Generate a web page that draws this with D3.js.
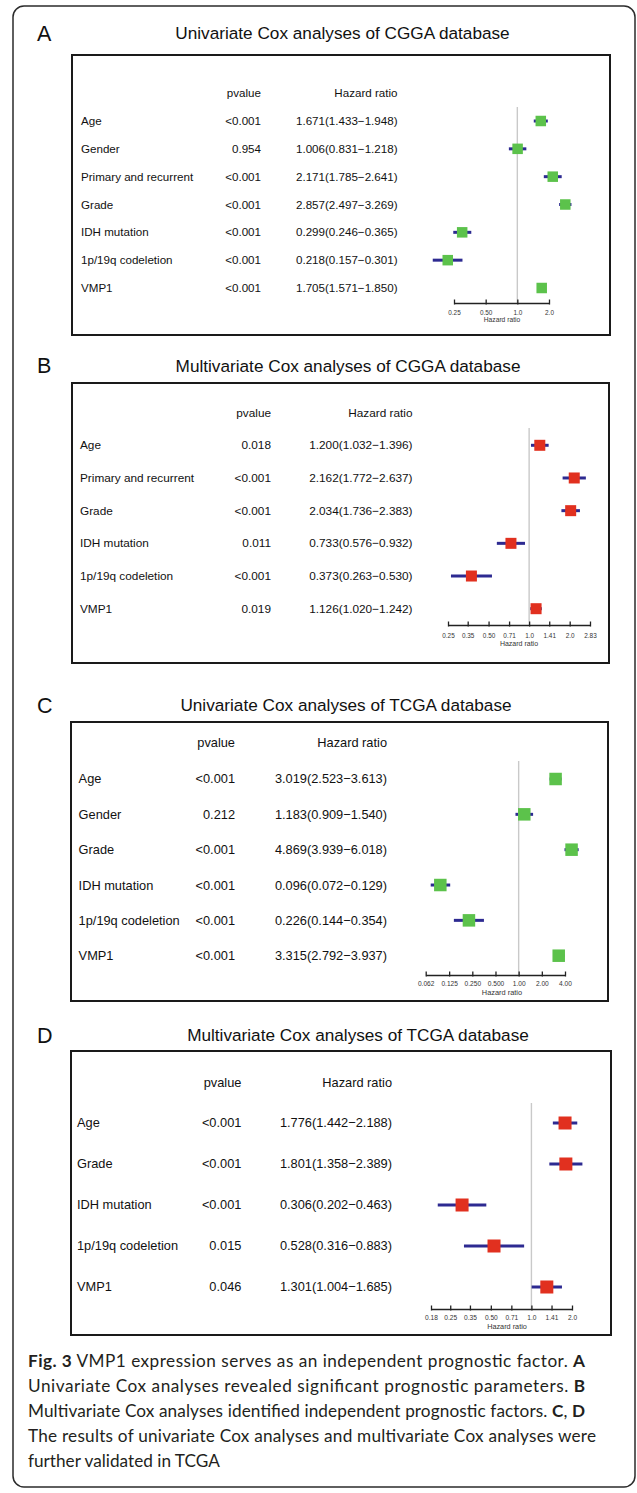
<!DOCTYPE html>
<html>
<head>
<meta charset="utf-8">
<script src="https://cdn.jsdelivr.net/npm/d3@7"></script>
<style>
  html, body { margin: 0; padding: 0; background: #fff; }
  svg { display: block; }
</style>
</head>
<body>
<svg id="chart" width="637" height="1493"></svg>
<script>
// ---------------- DATA ----------------
// Panel A: Univariate Cox analyses of CGGA database
const aLabels  = ["Age", "Gender", "Primary and recurrent", "Grade", "IDH mutation", "1p/19q codeletion", "VMP1"];
const aPvalues = ["<0.001", "0.954", "<0.001", "<0.001", "<0.001", "<0.001", "<0.001"];
const aHR      = [1.671, 1.006, 2.171, 2.857, 0.299, 0.218, 1.705];
const aLower   = [1.433, 0.831, 1.785, 2.497, 0.246, 0.157, 1.571];
const aUpper   = [1.948, 1.218, 2.641, 3.269, 0.365, 0.301, 1.850];
const aTicks   = [0.25, 0.5, 1, 2];
const aTickLabels = ["0.25", "0.50", "1.0", "2.0"];

// Panel B: Multivariate Cox analyses of CGGA database
const bLabels  = ["Age", "Primary and recurrent", "Grade", "IDH mutation", "1p/19q codeletion", "VMP1"];
const bPvalues = ["0.018", "<0.001", "<0.001", "0.011", "<0.001", "0.019"];
const bHR      = [1.200, 2.162, 2.034, 0.733, 0.373, 1.126];
const bLower   = [1.032, 1.772, 1.736, 0.576, 0.263, 1.020];
const bUpper   = [1.396, 2.637, 2.383, 0.932, 0.530, 1.242];
const bTicks   = [0.25, 0.35, 0.5, 0.71, 1, 1.41, 2, 2.83];
const bTickLabels = ["0.25", "0.35", "0.50", "0.71", "1.0", "1.41", "2.0", "2.83"];

// Panel C: Univariate Cox analyses of TCGA database
const cLabels  = ["Age", "Gender", "Grade", "IDH mutation", "1p/19q codeletion", "VMP1"];
const cPvalues = ["<0.001", "0.212", "<0.001", "<0.001", "<0.001", "<0.001"];
const cHR      = [3.019, 1.183, 4.869, 0.096, 0.226, 3.315];
const cLower   = [2.523, 0.909, 3.939, 0.072, 0.144, 2.792];
const cUpper   = [3.613, 1.540, 6.018, 0.129, 0.354, 3.937];
const cTicks   = [0.062, 0.125, 0.25, 0.5, 1, 2, 4];
const cTickLabels = ["0.062", "0.125", "0.250", "0.500", "1.00", "2.00", "4.00"];

// Panel D: Multivariate Cox analyses of TCGA database
const dLabels  = ["Age", "Grade", "IDH mutation", "1p/19q codeletion", "VMP1"];
const dPvalues = ["<0.001", "<0.001", "<0.001", "0.015", "0.046"];
const dHR      = [1.776, 1.801, 0.306, 0.528, 1.301];
const dLower   = [1.442, 1.358, 0.202, 0.316, 1.004];
const dUpper   = [2.188, 2.389, 0.463, 0.883, 1.685];
const dTicks   = [0.18, 0.25, 0.35, 0.5, 0.71, 1, 1.41, 2];
const dTickLabels = ["0.18", "0.25", "0.35", "0.50", "0.71", "1.0", "1.41", "2.0"];

const panelLetters = ["A", "B", "C", "D"];
const panelTitles = [
  "Univariate Cox analyses of CGGA database",
  "Multivariate Cox analyses of CGGA database",
  "Univariate Cox analyses of TCGA database",
  "Multivariate Cox analyses of TCGA database"
];

// ---------------- LAYOUT ----------------
const FONT = "'Liberation Sans', Arial, Helvetica, sans-serif";
const GREEN = "#5cc24b", RED = "#e1301f", NAVY = "#2d2a91";

const panels = [
  { letter: panelLetters[0], title: panelTitles[0], labels: aLabels, p: aPvalues, hr: aHR, lo: aLower, hi: aUpper,
    ticks: aTicks, tickLabels: aTickLabels, color: GREEN,
    box: [72, 55, 610, 335], titleX: 342.5, titleY: 33, letterY: 41,
    fs: 11.6, labelX: 81, pRight: 261, hrRight: 397.5, headY: 93, rowTop: 121, rowBot: 288,
    xr: [454, 549], refTop: 107, axisY: 303, tickPad: 7.6, tickFs: 6.4, hrLabY: 322.3, hrLabX: 502, hrLabFs: 6.7, sq: 10.5 },
  { letter: panelLetters[1], title: panelTitles[1], labels: bLabels, p: bPvalues, hr: bHR, lo: bLower, hi: bUpper,
    ticks: bTicks, tickLabels: bTickLabels, color: RED,
    box: [72, 383, 609, 663], titleX: 348, titleY: 366, letterY: 373,
    fs: 11.8, labelX: 80, pRight: 271, hrRight: 412.5, headY: 413, rowTop: 445.3, rowBot: 608.7,
    xr: [448, 590], refTop: 428, axisY: 625, tickPad: 8, tickFs: 6.4, hrLabY: 645.5, hrLabX: 519, hrLabFs: 7, sq: 11 },
  { letter: panelLetters[2], title: panelTitles[2], labels: cLabels, p: cPvalues, hr: cHR, lo: cLower, hi: cUpper,
    ticks: cTicks, tickLabels: cTickLabels, color: GREEN,
    box: [71, 722, 608, 1001], titleX: 346, titleY: 705, letterY: 713,
    fs: 12.8, labelX: 78.6, pRight: 235, hrRight: 387, headY: 743, rowTop: 779, rowBot: 955.7,
    xr: [425.7, 565], refTop: 761, axisY: 975, tickPad: 6.7, tickFs: 6.6, hrLabY: 994.6, hrLabX: 502, hrLabFs: 7.4, sq: 12.5 },
  { letter: panelLetters[3], title: panelTitles[3], labels: dLabels, p: dPvalues, hr: dHR, lo: dLower, hi: dUpper,
    ticks: dTicks, tickLabels: dTickLabels, color: RED,
    box: [71, 1051, 611, 1335], titleX: 358, titleY: 1035, letterY: 1043,
    fs: 12.8, labelX: 77, pRight: 241.4, hrRight: 392, headY: 1083, rowTop: 1123, rowBot: 1287,
    xr: [431, 572], refTop: 1103, axisY: 1309, tickPad: 6.4, tickFs: 6.6, hrLabY: 1328.6, hrLabX: 507, hrLabFs: 7.3, sq: 13 }
];

const fmt = d3.format(".3f");
const svg = d3.select("#chart");

svg.append("rect").attr("width", 637).attr("height", 1493).attr("fill", "#fff");

// outer rounded frame
svg.append("rect")
  .attr("x", 13).attr("y", 6).attr("width", 622).attr("height", 1481)
  .attr("rx", 11).attr("ry", 11)
  .attr("fill", "none").attr("stroke", "#2b2b2b").attr("stroke-width", 1.5);

panels.forEach(P => {
  const g = svg.append("g").attr("font-family", FONT).attr("fill", "#111");

  // panel letter
  g.append("text").attr("x", 37).attr("y", P.letterY)
    .attr("font-size", 21.5).text(P.letter);

  // title
  g.append("text").attr("x", P.titleX).attr("y", P.titleY)
    .attr("dy", "0.35em").attr("text-anchor", "middle")
    .attr("font-size", 17.2).text(P.title);

  // box
  const [x0, y0, x1, y1] = P.box;
  g.append("rect").attr("x", x0).attr("y", y0).attr("width", x1 - x0).attr("height", y1 - y0)
    .attr("fill", "none").attr("stroke", "#1a1a1a").attr("stroke-width", 2);

  // headers
  g.append("text").attr("x", P.pRight).attr("y", P.headY).attr("dy", "0.35em")
    .attr("text-anchor", "end").attr("font-size", P.fs).text("pvalue");
  g.append("text").attr("x", P.hrRight).attr("y", P.headY).attr("dy", "0.35em")
    .attr("text-anchor", "end").attr("font-size", P.fs).text("Hazard ratio");

  const y = d3.scalePoint().domain(P.labels).range([P.rowTop, P.rowBot]);
  const x = d3.scaleLog().domain([P.ticks[0], P.ticks[P.ticks.length - 1]]).range(P.xr);

  const rows = P.labels.map((lab, i) => ({ lab, p: P.p[i], hr: P.hr[i], lo: P.lo[i], hi: P.hi[i] }));

  // table text
  g.selectAll(".lab").data(rows).join("text")
    .attr("x", P.labelX).attr("y", d => y(d.lab)).attr("dy", "0.35em")
    .attr("font-size", P.fs).text(d => d.lab);
  g.selectAll(".pv").data(rows).join("text")
    .attr("x", P.pRight).attr("y", d => y(d.lab)).attr("dy", "0.35em")
    .attr("text-anchor", "end").attr("font-size", P.fs).text(d => d.p);
  g.selectAll(".hrt").data(rows).join("text")
    .attr("x", P.hrRight).attr("y", d => y(d.lab)).attr("dy", "0.35em")
    .attr("text-anchor", "end").attr("font-size", P.fs)
    .text(d => `${fmt(d.hr)}(${fmt(d.lo)}\u2212${fmt(d.hi)})`);

  // reference line at HR = 1
  g.append("line").attr("x1", x(1)).attr("x2", x(1))
    .attr("y1", P.refTop).attr("y2", P.axisY)
    .attr("stroke", "#c9c9c9").attr("stroke-width", 1.4);

  // confidence intervals
  g.selectAll(".ci").data(rows).join("line")
    .attr("x1", d => x(d.lo)).attr("x2", d => x(d.hi))
    .attr("y1", d => y(d.lab)).attr("y2", d => y(d.lab))
    .attr("stroke", NAVY).attr("stroke-width", 3);

  // point estimates
  g.selectAll(".pt").data(rows).join("rect")
    .attr("x", d => x(d.hr) - P.sq / 2).attr("y", d => y(d.lab) - P.sq / 2)
    .attr("width", P.sq).attr("height", P.sq)
    .attr("fill", P.color);

  // x axis
  const axis = d3.axisBottom(x)
    .tickValues(P.ticks)
    .tickFormat((d, i) => P.tickLabels[i])
    .tickSizeInner(-3).tickSizeOuter(0).tickPadding(P.tickPad);
  const ag = g.append("g").attr("transform", `translate(0,${P.axisY})`).call(axis);
  ag.select(".domain").attr("stroke", "#222").attr("stroke-width", 1.5);
  ag.selectAll(".tick line").attr("stroke", "#222").attr("stroke-width", 1.3).attr("y2", -3.5)
    .attr("y1", 1.5);
  ag.selectAll(".tick text").attr("font-family", FONT).attr("font-size", P.tickFs).attr("fill", "#333");

  g.append("text").attr("x", P.hrLabX).attr("y", P.hrLabY)
    .attr("text-anchor", "middle").attr("font-size", P.hrLabFs).attr("fill", "#333")
    .text("Hazard ratio");
});

// ---------------- CAPTION ----------------
const captionLines = [
  [["Fig. 3", true], [" VMP1 expression serves as an independent prognostic factor. ", false], ["A", true]],
  [["Univariate Cox analyses revealed significant prognostic parameters. ", false], ["B", true]],
  [["Multivariate Cox analyses identified independent prognostic factors. ", false], ["C", true], [", ", false], ["D", true]],
  [["The results of univariate Cox analyses and multivariate Cox analyses were", false]],
  [["further validated in TCGA", false]]
];
const capBase = [1367, 1392, 1417, 1442, 1467];
const capWidth = [557, 557, 557, 568, null];
const cap = svg.append("g").attr("font-family", "Lato, 'Open Sans', sans-serif").attr("font-size", 17.2).attr("fill", "#231f20");
captionLines.forEach((line, i) => {
  const t = cap.append("text").attr("x", 28).attr("y", capBase[i]);
  line.forEach(([s, b]) => {
    t.append("tspan").attr("font-weight", b ? "bold" : "normal").text(s);
  });
  if (capWidth[i]) t.attr("textLength", capWidth[i]).attr("lengthAdjust", "spacing");
});
</script>
</body>
</html>
